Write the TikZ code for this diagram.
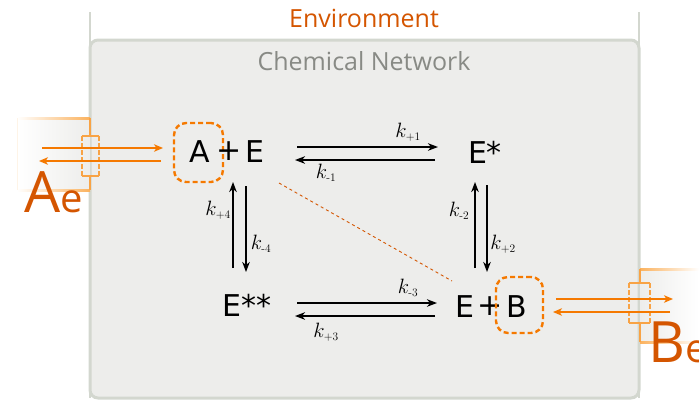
\documentclass[tikz,border=0pt]{standalone}
\usepackage{fontspec}
\usepackage{graphicx}
\newfontfamily\spfont{DejaVu Sans}
\newfontfamily\ttlfont{Open Sans}
\usetikzlibrary{arrows.meta}
\definecolor{envgray}{HTML}{D3D7CF}
\definecolor{netfill}{HTML}{EDEDEB}
\definecolor{nettext}{HTML}{888A85}
\definecolor{darkor}{HTML}{D45500}
\definecolor{bror}{HTML}{F57900}
\definecolor{chemo}{HTML}{FBB25E}
\definecolor{chan}{HTML}{F8A345}
\newcommand\rk[1]{$k_{\hbox{\fontsize{11.5}{12}\selectfont #1}}$}
\tikzset{
  sp/.style={font=\spfont\fontsize{30}{32}\selectfont, inner sep=0pt},
  dbox/.style={draw=bror, line width=2.4pt, dash pattern=on 5pt off 3pt, rounded corners=12pt},
  klab/.style={font=\fontsize{22}{24}\selectfont, inner sep=0pt},
  rx/.style={line width=1.6pt, -{Stealth[length=10pt,width=7.5pt,inset=3pt]}},
  ox/.style={draw=bror, line width=1.5pt, -{Stealth[length=9pt,width=7.5pt,inset=2.5pt]}},
  chl/.style={draw=chan, line width=1.8pt},
}
\begin{document}
\begin{tikzpicture}[x=1pt,y=-1pt]
\useasboundingbox (0,0) rectangle (699,400);
% environment
\draw[envgray, line width=2.5pt] (90,12) -- (90,398);
\draw[envgray, line width=2.5pt] (639,12) -- (639,398);
\node[font=\ttlfont\fontsize{25}{27}\selectfont, text=darkor] (env) at (364,18) {Environment};
% network box
\draw[envgray, fill=netfill, line width=3pt, rounded corners=8pt] (90,40) rectangle (639,398);
\node[font=\ttlfont\fontsize{25}{27}\selectfont, text=nettext] (net) at (364,61) {Chemical Network};
% left chemostat
\shade[left color=white, right color=netfill] (17,118) rectangle (90,190);
\shade[left color=white, right color=chemo] (17,117) rectangle (90,119.5);
\shade[left color=white, right color=chemo] (17,189) rectangle (90,191.5);
\draw[chemo!15, line width=1pt] (17,118) -- (17,190);
\draw[chl] (90,118) -- (90,136) (82,136) -- (99,136) (82,176) -- (99,176) (90,176) -- (90,190);
\draw[chl, dash pattern=on 5pt off 2pt] (82,136) -- (82,176) (99,136) -- (99,176);
% right chemostat
\shade[left color=netfill, right color=white] (640,269) rectangle (699,342);
\shade[left color=chemo, right color=white] (640,268) rectangle (699,270.5);
\shade[left color=chemo, right color=white] (640,341) rectangle (699,343.5);
\draw[chl] (640,269) -- (640,283) (629,283) -- (650,283) (629,323) -- (650,323) (640,323) -- (640,342);
\draw[chl, dash pattern=on 5pt off 2pt] (629,283) -- (629,323) (650,283) -- (650,323);
% external labels
\node[anchor=base west, inner sep=0pt, text=darkor, font=\ttlfont\fontsize{57}{60}\selectfont] (Ae) at (24,212) {A{\fontsize{40}{42}\selectfont e}};
\node[anchor=base west, inner sep=0pt, text=darkor, font=\ttlfont\fontsize{57}{60}\selectfont] (Be) at (648,362) {B{\fontsize{40}{42}\selectfont e}};
% species
\node[sp, dbox, minimum width=49pt, minimum height=59pt] (A) at (198.5,152.5) {};
\node[sp] (At) at (199.5,152) {A};
\node[sp] (p1) at (229,151) {+};
\node[sp] (E1) at (254.5,152) {E};
\node[sp] (Es) at (485,152) {E*};
\node[sp] (Ess) at (247,305) {E**};
\node[sp] (E2) at (464.5,307) {E};
\node[sp] (p2) at (490,306) {+};
\node[sp, dbox, minimum width=47pt, minimum height=56pt] (B) at (519.5,305) {};
\node[sp] (Bt) at (516.5,307) {B};
% arrow end points
\coordinate (t1s) at (297,147); \coordinate (t1e) at (438,147);
\coordinate (t2s) at (435,160); \coordinate (t2e) at (295,160);
\coordinate (r1s) at (475,268); \coordinate (r1e) at (475,182);
\coordinate (r2s) at (487,185); \coordinate (r2e) at (487,272);
\coordinate (l1s) at (233,268); \coordinate (l1e) at (233,182);
\coordinate (l2s) at (246,186); \coordinate (l2e) at (246,272);
\coordinate (b1s) at (297,303); \coordinate (b1e) at (437,303);
\coordinate (b2s) at (435,316); \coordinate (b2e) at (295,316);
\coordinate (oL1s) at (42,148); \coordinate (oL1e) at (163,148);
\coordinate (oL2s) at (161,161); \coordinate (oL2e) at (39,161);
\coordinate (oR1s) at (556,299); \coordinate (oR1e) at (673,299);
\coordinate (oR2s) at (670,312); \coordinate (oR2e) at (553,312);
\coordinate (ds) at (279,183); \coordinate (de) at (452,281);
% reaction arrows
\draw[rx] (t1s) -- (t1e);
\draw[rx] (t2s) -- (t2e);
\draw[rx] (r1s) -- (r1e);
\draw[rx] (r2s) -- (r2e);
\draw[rx] (l1s) -- (l1e);
\draw[rx] (l2s) -- (l2e);
\draw[rx] (b1s) -- (b1e);
\draw[rx] (b2s) -- (b2e);
% exchange arrows
\draw[ox] (oL1s) -- (oL1e);
\draw[ox] (oL2s) -- (oL2e);
\draw[ox] (oR1s) -- (oR1e);
\draw[ox] (oR2s) -- (oR2e);
% dotted link
\draw[darkor, line width=0.9pt, dash pattern=on 3pt off 3pt] (ds) -- (de);
% rate labels
\node[klab] (k1p) at (408,132) {\rk{+1}};
\node[klab] (k1m) at (326,173) {\rk{-1}};
\node[klab] (k2m) at (459,211) {\rk{-2}};
\node[klab] (k2p) at (503,244) {\rk{+2}};
\node[klab] (k4p) at (218,210) {\rk{+4}};
\node[klab] (k4m) at (261,244) {\rk{-4}};
\node[klab] (k3m) at (408,288) {\rk{-3}};
\node[klab] (k3p) at (326,332) {\rk{+3}};
\end{tikzpicture}
\end{document}
